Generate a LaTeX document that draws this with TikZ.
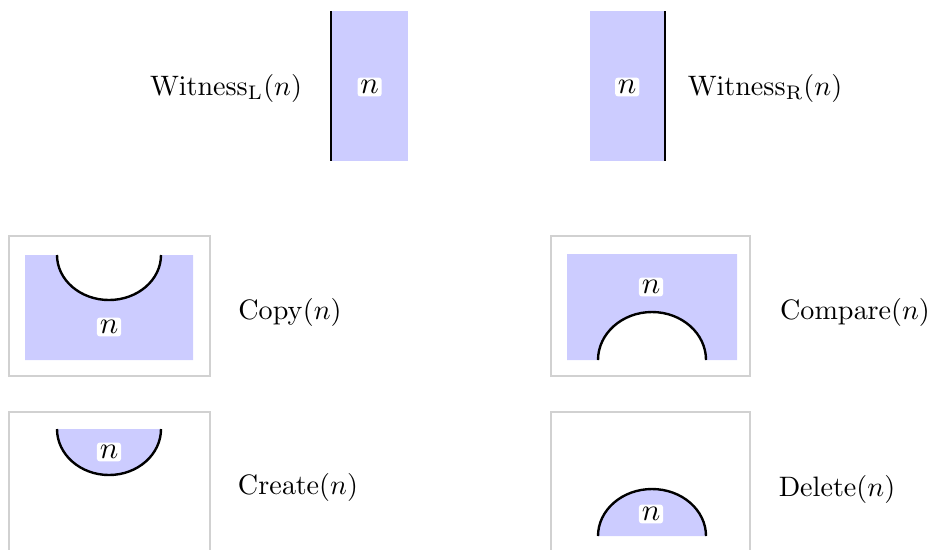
\documentclass[tikz,border=0pt]{standalone}
\usepackage{amsmath,amssymb}
\usepackage{tikz}
\usepackage{xcolor}
\definecolor{tregion}{RGB}{204,204,255}

\begin{document}
\begin{tikzpicture}
\tikzstyle{regionBlue} = [
  fill = tregion
]
\tikzstyle{tboundary} = [
  draw = black,
  line width = 0.85pt
]
\tikzstyle{frameGray} = [
  draw = black!18,
  line width = 0.5pt
]
\tikzstyle{nodeN} = [
  fill = white,
  rounded corners = 1pt,
  inner sep = 1pt,
  font = \fontsize{10.5}{12}\selectfont
]
\tikzstyle{opLabel} = [
  font = \fontsize{10.25}{12}\selectfont
]

\useasboundingbox (0,0) rectangle (11.675,-6.8625);

% witnesses
\fill[regionBlue] (4.1375,-0.1375) rectangle (5.1,-2.0125);
\draw[tboundary] (4.1375,-0.1375) -- (4.1375,-2.0125);
\node[nodeN] (nWL) at (4.62,-1.0875) {$n$};
\node[opLabel] (witL) at (2.825,-1.1) {$\mathrm{Witness}_{\mathrm{L}}(n)$};

\fill[regionBlue] (7.375,-0.1375) rectangle (8.3125,-2.0125);
\draw[tboundary] (8.3125,-0.1375) -- (8.3125,-2.0125);
\node[nodeN] (nWR) at (7.84,-1.0875) {$n$};
\node[opLabel] (witR) at (9.5625,-1.1) {$\mathrm{Witness}_{\mathrm{R}}(n)$};

% copy
\draw[frameGray] (0.1125,-2.95) rectangle (2.625,-4.7);
\fill[regionBlue] (0.3125,-3.1875) -- (0.7125,-3.1875) arc (180:360:0.65 and 0.5625)
  -- (2.4125,-3.1875) -- (2.4125,-4.5) -- (0.3125,-4.5) -- cycle;
\draw[tboundary] (0.7125,-3.1875) arc (180:360:0.65 and 0.5625);
\node[nodeN] (nCopy) at (1.3625,-4.0875) {$n$};
\node[opLabel] (copy) at (3.625,-3.9) {$\mathrm{Copy}(n)$};

% compare
\draw[frameGray] (6.8875,-2.95) rectangle (9.375,-4.7);
\fill[regionBlue] (7.0875,-4.5) -- (7.475,-4.5) arc (180:0:0.675 and 0.6)
  -- (9.2125,-4.5) -- (9.2125,-3.175) -- (7.0875,-3.175) -- cycle;
\draw[tboundary] (7.475,-4.5) arc (180:0:0.675 and 0.6);
\node[nodeN] (nComp) at (8.1375,-3.5875) {$n$};
\node[opLabel] (compare) at (10.6875,-3.9) {$\mathrm{Compare}(n)$};

% create
\draw[frameGray] (0.1125,-5.15) rectangle (2.625,-6.9);
\fill[regionBlue] (0.7125,-5.3625) arc (180:360:0.65 and 0.575) -- cycle;
\draw[tboundary] (0.7125,-5.3625) arc (180:360:0.65 and 0.575);
\node[nodeN] (nCreate) at (1.3625,-5.65) {$n$};
\node[opLabel] (create) at (3.725,-6.0875) {$\mathrm{Create}(n)$};

% delete
\draw[frameGray] (6.8875,-5.15) rectangle (9.375,-6.9);
\fill[regionBlue] (7.475,-6.7) arc (180:0:0.675 and 0.5875) -- cycle;
\draw[tboundary] (7.475,-6.7) arc (180:0:0.675 and 0.5875);
\node[nodeN] (nDelete) at (8.1375,-6.425) {$n$};
\node[opLabel] (delete) at (10.4625,-6.1125) {$\mathrm{Delete}(n)$};

\end{tikzpicture}
\end{document}
